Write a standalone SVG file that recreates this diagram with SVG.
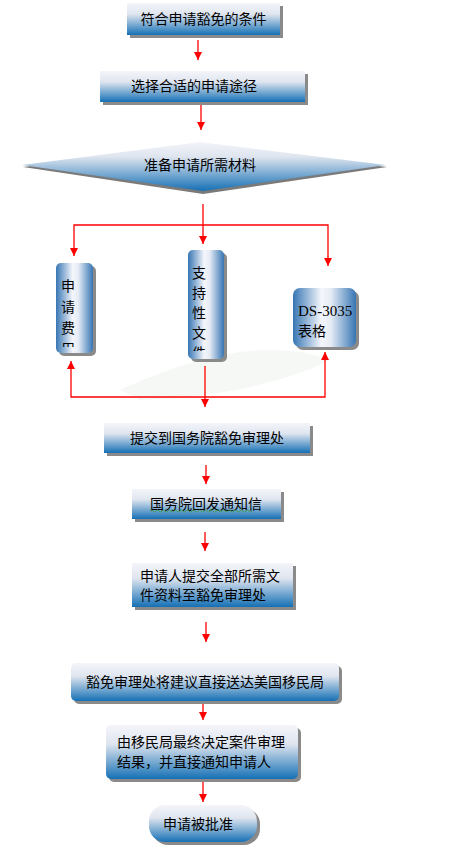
<svg xmlns="http://www.w3.org/2000/svg" width="461" height="848" viewBox="0 0 461 848">
<defs>
<linearGradient id="gv" x1="0" y1="0" x2="0" y2="1">
<stop offset="0" stop-color="#f4f5fa"/>
<stop offset="0.35" stop-color="#dfe5ef"/>
<stop offset="1" stop-color="#1570b5"/>
</linearGradient>
<linearGradient id="gh" x1="0" y1="0" x2="1" y2="0">
<stop offset="0" stop-color="#3776b4"/>
<stop offset="0.45" stop-color="#f4f6fb"/>
<stop offset="0.6" stop-color="#e6ecf5"/>
<stop offset="1" stop-color="#3776b4"/>
</linearGradient>
<linearGradient id="gd" x1="0" y1="0" x2="0" y2="1">
<stop offset="0" stop-color="#f2f4f9"/>
<stop offset="0.3" stop-color="#dfe5ef"/>
<stop offset="1" stop-color="#1570b5"/>
</linearGradient>
<clipPath id="c1"><rect x="56" y="263" width="37" height="84"/></clipPath>
<clipPath id="c2"><rect x="188" y="250" width="36" height="101"/></clipPath>
</defs>
<style>
.t{font-family:"Noto Sans CJK SC","Noto Sans",sans-serif;font-size:14px;fill:#000}
.s{font-family:"Liberation Serif",serif;font-size:15px;fill:#000}
.sh{fill:#8a8a8a}
.ln{stroke:#ff0000;stroke-width:1.3;fill:none}
.ar{fill:#ff0000}
</style>
<rect width="461" height="848" fill="#ffffff"/>
<path d="M120,390 Q250,330 330,360 Q260,395 140,400 Z" fill="#eef3ec" opacity="0.6"/>

<g id="connectors">
<line class="ln" x1="198" y1="40" x2="198" y2="60"/>
<path class="ar" d="M194,52 L202,52 L198,60 Z"/>
<line class="ln" x1="201" y1="105" x2="201" y2="130"/>
<path class="ar" d="M197,122 L205,122 L201,130 Z"/>
<line class="ln" x1="203" y1="204" x2="203" y2="244"/>
<path class="ar" d="M199,236 L207,236 L203,244 Z"/>
<polyline class="ln" points="74,256 74,225 328,225 328,266"/>
<path class="ar" d="M70,248 L78,248 L74,256 Z"/>
<path class="ar" d="M324,258 L332,258 L328,266 Z"/>
<line class="ln" x1="205" y1="366" x2="205" y2="407"/>
<path class="ar" d="M201,399 L209,399 L205,407 Z"/>
<polyline class="ln" points="71,361 71,397 325,397 325,352"/>
<path class="ar" d="M67,369 L75,369 L71,361 Z"/>
<path class="ar" d="M321,360 L329,360 L325,352 Z"/>
<line class="ln" x1="206" y1="465" x2="206" y2="484"/>
<path class="ar" d="M202,476 L210,476 L206,484 Z"/>
<line class="ln" x1="205" y1="532" x2="205" y2="551"/>
<path class="ar" d="M201,543 L209,543 L205,551 Z"/>
<line class="ln" x1="206" y1="622" x2="206" y2="642"/>
<path class="ar" d="M202,634 L210,634 L206,642 Z"/>
<line class="ln" x1="203" y1="701" x2="203" y2="720"/>
<path class="ar" d="M199,712 L207,712 L203,720 Z"/>
<line class="ln" x1="203" y1="779" x2="203" y2="802"/>
<path class="ar" d="M199,794 L207,794 L203,802 Z"/>
</g>

<g id="n1">
<rect class="sh" x="130" y="6" width="153" height="32"/>
<rect x="127" y="3" width="153" height="32" fill="url(#gv)"/>
<text class="t" x="203.5" y="24" text-anchor="middle">符合申请豁免的条件</text>
</g>

<g id="n2">
<rect class="sh" x="103" y="74" width="205" height="31"/>
<rect x="100" y="71" width="205" height="31" fill="url(#gv)"/>
<text class="t" x="131" y="91">选择合适的申请途径</text>
</g>

<g id="n3">
<path d="M23,167 L200,145 L387,167 L203,194 Z" fill="#7a7a7a"/>
<path d="M22,165 L200,142 L386,165 L203,191 Z" fill="url(#gd)"/>
<text class="t" x="200" y="170" text-anchor="middle">准备申请所需材料</text>
</g>

<g id="n4">
<rect class="sh" x="59" y="266" width="37" height="90" rx="5"/>
<rect x="56" y="263" width="37" height="90" rx="5" fill="url(#gh)"/>
<g clip-path="url(#c1)">
<text class="t" x="61" y="291">申</text>
<text class="t" x="61" y="312">请</text>
<text class="t" x="61" y="333">费</text>
<text class="t" x="61" y="354">用</text>
</g>
</g>

<g id="n5">
<rect class="sh" x="191" y="253" width="36" height="109" rx="5"/>
<rect x="188" y="250" width="36" height="109" rx="5" fill="url(#gh)"/>
<g clip-path="url(#c2)">
<text class="t" x="192" y="278">支</text>
<text class="t" x="192" y="298">持</text>
<text class="t" x="192" y="318">性</text>
<text class="t" x="192" y="338">文</text>
<text class="t" x="192" y="358">件</text>
</g>
</g>

<g id="n6">
<rect class="sh" x="296" y="291" width="63" height="59" rx="7"/>
<rect x="293" y="288" width="63" height="59" rx="7" fill="url(#gh)"/>
<text class="s" x="298" y="316">DS-3035</text>
<text class="t" x="298" y="336">表格</text>
</g>

<g id="n7">
<rect class="sh" x="107" y="426" width="206" height="30"/>
<rect x="104" y="423" width="206" height="30" fill="url(#gv)"/>
<text class="t" x="207" y="443" text-anchor="middle">提交到国务院豁免审理处</text>
</g>

<g id="n8">
<rect class="sh" x="135" y="492" width="149" height="30"/>
<rect x="132" y="489" width="149" height="30" fill="url(#gv)"/>
<text class="t" x="206" y="509" text-anchor="middle">国务院回发通知信</text>
<path d="M150,511 q1.5,-2 3,0 t3,0 t3,0 t3,0 t3,0 t3,0 t3,0 t3,0 t3,0 t3,0 t3,0 t3,0 t3,0 t3,0 t3,0 t3,0 t3,0 t3,0 t3,0 t3,0 t3,0 t3,0 t3,0 t3,0 t3,0 t3,0 t3,0 t3,0 t3,0 t3,0 t3,0 t3,0 t3,0 t3,0" fill="none" stroke="#3a9a3a" stroke-width="0.8"/>
</g>

<g id="n9">
<rect class="sh" x="135" y="566" width="161" height="44"/>
<rect x="132" y="563" width="161" height="44" fill="url(#gv)"/>
<text class="t" x="140" y="581">申请人提交全部所需文</text>
<text class="t" x="140" y="600">件资料至豁免审理处</text>
</g>

<g id="n10">
<rect class="sh" x="74" y="666" width="268" height="38" rx="5"/>
<rect x="71" y="663" width="268" height="38" rx="5" fill="url(#gv)"/>
<text class="t" x="205" y="687" text-anchor="middle">豁免审理处将建议直接送达美国移民局</text>
</g>

<g id="n11">
<rect class="sh" x="109" y="728" width="192" height="54" rx="5"/>
<rect x="106" y="725" width="192" height="54" rx="5" fill="url(#gv)"/>
<text class="t" x="117" y="747">由移民局最终决定案件审理</text>
<text class="t" x="117" y="767">结果，并直接通知申请人</text>
</g>

<g id="n12">
<rect class="sh" x="152" y="808" width="108" height="37" rx="16"/>
<rect x="149" y="805" width="108" height="37" rx="16" fill="url(#gv)"/>
<text class="t" x="163" y="829">申请被批准</text>
</g>
</svg>
